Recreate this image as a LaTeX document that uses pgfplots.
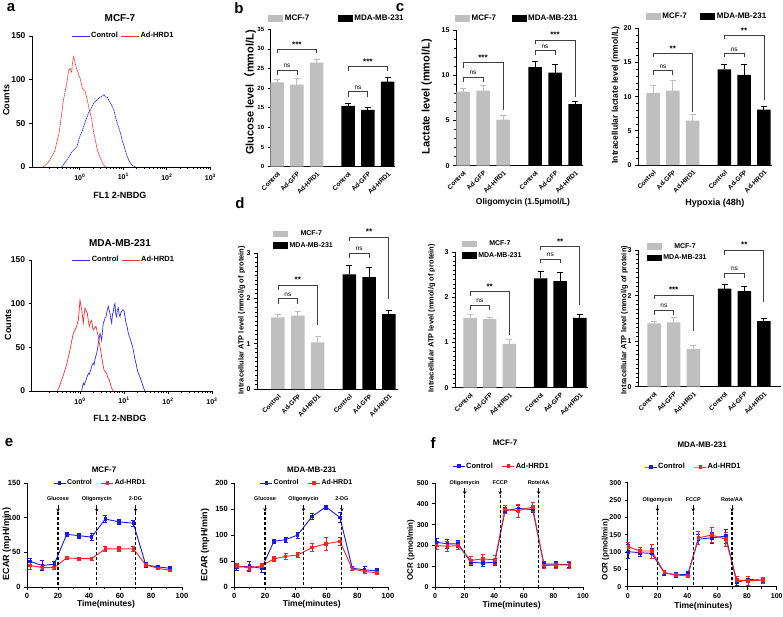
\documentclass[border=0pt]{standalone}
\usepackage{fontspec}
\setmainfont{Liberation Sans}
\newfontfamily\cjk{Noto Sans CJK SC}
\usepackage{pgfplots}
\pgfplotsset{compat=1.18}
\usetikzlibrary{arrows.meta}

\definecolor{barg}{RGB}{191,191,191}
\definecolor{hblue}{RGB}{45,45,255}
\definecolor{hred}{RGB}{255,45,45}
\definecolor{lblue}{RGB}{25,25,235}
\definecolor{lred}{RGB}{245,35,35}

\newcommand\fs[1]{\fontsize{#1}{#1}\selectfont}
% significance bracket: x1, x2, bar level, left foot, right foot, text
\newcommand\brk[6]{%
  \draw[black!75,line width=0.8pt] (axis cs:#1,#4) -- (axis cs:#1,#3) -- (axis cs:#2,#3) -- (axis cs:#2,#5);
  \node[anchor=south,inner sep=2pt] at (axis cs:{(#1+#2)/2},#3) {#6};}
\newcommand\ns{\fs{6.5}ns}
\newcommand\st[1]{\bfseries\fs{8}#1}
% injection marker: x, arrow top, arrow tip, label level, text
\newcommand\evt[5]{%
  \draw[line width=1.1pt,dash pattern=on 3pt off 2pt] (axis cs:#1,#3) -- (axis cs:#1,0);
  \draw[line width=1pt,-{Stealth[length=3.5pt,width=3.5pt]}] (axis cs:#1,#2) -- (axis cs:#1,#3);
  \node[font=\bfseries\fs{5.5},inner sep=0pt] at (axis cs:#1,#4) {#5};}

\pgfplotsset{
  base/.style={scale only axis, anchor=south west,
    axis x line*=bottom, axis y line*=left,
    axis line style={line width=1pt,-},
    tick align=outside, tick style={black,line width=0.8pt},
    major tick length=3pt, minor tick length=1.8pt,
    every axis title shift=0pt,
    /pgf/number format/assume math mode=true,
    clip=false},
  hist/.style={base, xmin=-1.1, xmax=3, ymin=0, ymax=150,
    ytick={0,50,100,150}, xtick={0,1,2,3},
    xticklabels={10\textsuperscript{0},10\textsuperscript{1},10\textsuperscript{2},10\textsuperscript{3}},
    minor xtick={-0.699,-0.523,-0.398,-0.301,-0.222,-0.155,-0.097,-0.046,
      0.301,0.477,0.602,0.699,0.778,0.845,0.903,0.954,
      1.301,1.477,1.602,1.699,1.778,1.845,1.903,1.954,
      2.301,2.477,2.602,2.699,2.778,2.845,2.903,2.954},
    x tick label style={font=\bfseries\fs{7}},
    y tick label style={font=\bfseries\fs{8.5}},
    title style={font=\bfseries\fs{10}},
    xlabel={FL1 2-NBDG}, ylabel={Counts},
    label style={font=\bfseries\fs{9}},
    legend style={draw=none, fill=none, at={(axis description cs:0.51,1)}, anchor=center,
      font=\bfseries\fs{7.5}, inner sep=0pt, nodes={inner sep=1pt},
      /tikz/every even column/.append style={column sep=2pt}},
    legend columns=2,
    legend image code/.code={\draw[##1,solid] (0pt,0pt) -- (18pt,0pt);}},
  barax/.style={base, ymin=0, xtick={0,1,2,3.6,4.6,5.6},
    xticklabels={Control,Ad-GFP,Ad-HRD1,Control,Ad-GFP,Ad-HRD1},
    x tick label style={rotate=45, anchor=north east, inner sep=1pt, font=\bfseries\fs{6.5}},
    y tick label style={font=\bfseries\fs{7}},
    major x tick style={draw=none},
    legend style={draw=none, fill=none, anchor=west, font=\bfseries\fs{8},
      inner sep=0pt, nodes={inner sep=1.5pt}}},
  atp/.style={barax, ymax=3, ytick={0,1,2,3}, minor y tick num=9,
    ylabel={Intracellular ATP level (mmol/g of protein)},
    ylabel style={font=\bfseries\fs{7.5}},
    legend columns=1, legend style={font=\bfseries\fs{7}, row sep=2pt},
    title style={font=\bfseries\fs{8.5}}},
  gbar/.style={ybar, fill=barg, draw=none, bar shift=0pt, bar width=13.5pt,
    legend image code/.code={\fill[barg] (0pt,-3.2pt) rectangle (15pt,3.2pt);},
    error bars/.cd, y dir=plus, y explicit,
    error bar style={line width=1pt,barg},
    error mark options={rotate=90,mark size=3pt,line width=1pt,barg}},
  kbar/.style={ybar, fill=black, draw=none, bar shift=0pt, bar width=13.5pt,
    legend image code/.code={\fill[black] (0pt,-3.2pt) rectangle (15pt,3.2pt);},
    error bars/.cd, y dir=plus, y explicit,
    error bar style={line width=1pt,black},
    error mark options={rotate=90,mark size=3pt,line width=1pt,black}},
  lineax/.style={base, xmin=0, xmax=100, xtick={0,20,...,100}, ymin=0,
    minor x tick num=1,
    tick label style={font=\bfseries\fs{7}},
    title style={font=\bfseries\fs{8}},
    xlabel={Time(minutes)},
    label style={font=\bfseries\fs{8.5}},
    legend style={draw=none, fill=none, anchor=center, font=\bfseries\fs{7},
      inner sep=0pt, nodes={inner sep=1pt},
      /tikz/every even column/.append style={column sep=8pt}},
    legend columns=2,
    legend image code/.code={\draw[mark repeat=2,mark phase=2,##1] plot coordinates {(0pt,0pt) (6pt,0pt) (12pt,0pt)};}},
  ctl/.style={lblue, line width=0.9pt, mark=square*, mark size=1.3pt,
    error bars/.cd, y dir=both, y explicit,
    error bar style={line width=0.6pt,lblue},
    error mark options={rotate=90,mark size=2pt,line width=0.6pt,lblue}},
  hrd/.style={lred, line width=0.9pt, mark=square*, mark size=1.3pt,
    error bars/.cd, y dir=both, y explicit,
    error bar style={line width=0.6pt,lred},
    error mark options={rotate=90,mark size=2pt,line width=0.6pt,lred}},
}

\begin{document}
\begin{tikzpicture}
\useasboundingbox (0,0) rectangle (783pt,-616pt);

\node[font=\bfseries\fs{15}] at (11pt,-8pt) {a};
\node[font=\bfseries\fs{15}] at (239pt,-8pt) {b};
\node[font=\bfseries\fs{15}] at (400pt,-8pt) {c};
\node[font=\bfseries\fs{15}] at (240pt,-203pt) {d};
\node[font=\bfseries\fs{15}] at (9pt,-443pt) {e};
\node[font=\bfseries\fs{15}] at (433pt,-443pt) {f};

% ---------- a: MCF-7 histogram
\begin{axis}[hist, at={(32pt,-167pt)}, width=178.4pt, height=131pt,
  title={MCF-7}, title style={at={(axis description cs:0.493,1.137)},anchor=center},
  xlabel style={at={(axis description cs:0.493,-0.214)},anchor=center},
  ylabel style={at={(axis description cs:-0.144,0.51)},anchor=center}]
\addplot[hblue, line width=0.7pt, dash pattern=on 1.5pt off 0.6pt] coordinates {
(-0.419,0) (-0.36,4) (-0.302,7.7) (-0.25,12) (-0.186,17) (-0.13,20) (-0.07,23) (-0.03,30)
(0.008,36) (0.045,40) (0.085,46) (0.125,52) (0.163,57) (0.2,62) (0.24,65) (0.28,69)
(0.318,73) (0.355,75) (0.395,77) (0.435,79) (0.473,80) (0.51,81) (0.55,83) (0.59,80)
(0.628,80) (0.665,76) (0.705,73) (0.745,69) (0.783,65) (0.82,57) (0.86,50) (0.9,44)
(0.938,38) (0.975,30) (1.016,24) (1.055,17) (1.093,11.5) (1.13,7) (1.17,3.8) (1.23,1) (1.287,0)};
\addlegendentry{Control}
\addplot[hred, line width=0.7pt, dash pattern=on 1.5pt off 0.6pt] coordinates {
(-0.845,0) (-0.75,4) (-0.65,11.5) (-0.58,18) (-0.535,27) (-0.49,36) (-0.457,46) (-0.42,60)
(-0.38,76) (-0.34,86) (-0.30,96) (-0.26,110) (-0.225,113) (-0.19,108) (-0.17,118) (-0.147,126)
(-0.12,122) (-0.093,116) (-0.07,112) (-0.047,109) (-0.02,104) (0.007,102) (0.035,95) (0.062,90)
(0.09,88) (0.124,86) (0.155,80) (0.186,73) (0.215,66) (0.24,61) (0.27,55) (0.295,46)
(0.33,36) (0.372,27) (0.40,20) (0.434,15) (0.47,10) (0.51,6) (0.55,2) (0.59,0)};
\addlegendentry{Ad-HRD1}
\end{axis}

% ---------- a: MDA-MB-231 histogram
\begin{axis}[hist, at={(31.6pt,-391pt)}, width=180.4pt, height=131pt,
  title={MDA-MB-231}, title style={at={(axis description cs:0.49,1.13)},anchor=center},
  xlabel style={at={(axis description cs:0.49,-0.206)},anchor=center},
  ylabel style={at={(axis description cs:-0.131,0.504)},anchor=center}]
\addplot[hblue, line width=0.7pt] coordinates {
(0.038,0) (0.057,5) (0.076,9) (0.1,7) (0.136,12.6) (0.16,16) (0.189,20) (0.21,19)
(0.242,24) (0.27,29) (0.303,32) (0.32,30) (0.341,36) (0.36,40) (0.379,43) (0.4,49)
(0.417,55) (0.435,60) (0.455,66) (0.475,62) (0.492,58) (0.51,68) (0.53,78) (0.55,80)
(0.57,84) (0.591,85) (0.61,90) (0.625,94) (0.644,97) (0.66,93) (0.682,89) (0.7,83)
(0.72,78) (0.74,88) (0.758,91) (0.775,97) (0.795,100) (0.812,88) (0.833,85) (0.85,93)
(0.871,95) (0.89,88) (0.909,85) (0.93,90) (0.947,91) (0.97,93) (1.0,92) (1.02,86)
(1.045,78) (1.07,74) (1.098,66) (1.125,62) (1.152,58) (1.175,54) (1.197,51) (1.225,43)
(1.25,36) (1.28,30) (1.303,24) (1.33,20) (1.364,16) (1.39,12) (1.424,7) (1.45,3) (1.477,0)};
\addlegendentry{Control}
\addplot[hred, line width=0.7pt] coordinates {
(-0.515,0) (-0.47,5) (-0.417,12.6) (-0.38,18) (-0.341,24) (-0.3,31) (-0.265,39) (-0.227,47)
(-0.19,57) (-0.152,66) (-0.115,70) (-0.076,74) (-0.057,78) (-0.038,81) (-0.02,92) (0,104)
(0.019,98) (0.038,93) (0.057,86) (0.076,78) (0.095,88) (0.114,95) (0.14,92) (0.167,89)
(0.19,80) (0.212,74) (0.24,79) (0.265,81) (0.285,73) (0.303,70) (0.33,72) (0.364,74)
(0.39,68) (0.417,62) (0.435,56) (0.455,51) (0.475,45) (0.492,39) (0.52,31) (0.545,24)
(0.575,22) (0.606,20) (0.635,15) (0.667,12.6) (0.69,8) (0.72,3) (0.758,0)};
\addlegendentry{Ad-HRD1}
\end{axis}

% ---------- b: glucose
\begin{axis}[barax, at={(270.7pt,-166.7pt)}, width=124.7pt, height=137.4pt,
  xmin=-0.33, xmax=6, ymax=35, ytick={0,5,...,35},
  y tick label style={font=\bfseries\fs{6}},
  ylabel={Glucose level{\cjk （}mmol/L)},
  ylabel style={at={(axis description cs:-0.166,0.54)},anchor=center,font=\bfseries\fs{11}},
  legend columns=2,
  legend style={at={(axis description cs:-0.02,1.08)},
    /tikz/every even column/.append style={column sep=27pt}}]
\addplot[gbar] coordinates {(0,21.5) +- (0,0.6) (1,20.9) +- (0,1.5) (2,26.5) +- (0,0.7)};
\addlegendentry{MCF-7}
\addplot[kbar] coordinates {(3.6,15.5) +- (0,0.7) (4.6,14.5) +- (0,0.6) (5.6,21.7) +- (0,0.9)};
\addlegendentry{MDA-MB-231}
\brk{0}{1}{24.6}{23.4}{23.4}{\ns}
\brk{0}{2}{29.9}{28.9}{28.9}{\st{***}}
\brk{3.6}{4.6}{19.1}{17.8}{17.8}{\ns}
\brk{3.6}{5.6}{25.5}{24.5}{24.5}{\st{***}}
\end{axis}

% ---------- c: lactate
\begin{axis}[barax, at={(456pt,-165.7pt)}, width=127pt, height=135.7pt,
  xmin=-0.35, xmax=6, ymax=15, ytick={0,5,10,15}, minor y tick num=4,
  ylabel={Lactate level (mmol/L)},
  ylabel style={at={(axis description cs:-0.231,0.508)},anchor=center,font=\bfseries\fs{11}},
  legend columns=2,
  legend style={at={(axis description cs:-0.008,1.086)},
    /tikz/every even column/.append style={column sep=14pt}}]
\addplot[gbar] coordinates {(0,8.2) +- (0,0.3) (1,8.3) +- (0,0.6) (2,5.1) +- (0,0.5)};
\addlegendentry{MCF-7}
\addplot[kbar] coordinates {(3.6,10.9) +- (0,0.6) (4.6,10.3) +- (0,0.9) (5.6,6.8) +- (0,0.3)};
\addlegendentry{MDA-MB-231}
\brk{0}{1}{9.8}{9.3}{9.3}{\ns}
\brk{0}{2}{11.4}{10.85}{6.2}{\st{***}}
\brk{3.6}{4.6}{12.7}{12.25}{12.25}{\ns}
\brk{3.6}{5.6}{13.9}{13.5}{7.6}{\st{***}}
\end{axis}

% ---------- c: intracellular lactate
\begin{axis}[barax, at={(638pt,-165pt)}, width=133.8pt, height=136.7pt,
  xmin=-0.76, xmax=6, ymax=20, ytick={0,5,...,20}, minor y tick num=4,
  ylabel={Intracellular lactate level (mmol/L)},
  ylabel style={at={(axis description cs:-0.167,0.512)},anchor=center,font=\bfseries\fs{8.5}},
  legend columns=2,
  legend style={at={(axis description cs:0.058,1.085)},
    /tikz/every even column/.append style={column sep=12pt}}]
\addplot[gbar] coordinates {(0,10.5) +- (0,1.1) (1,10.9) +- (0,1.5) (2,6.5) +- (0,0.9)};
\addlegendentry{MCF-7}
\addplot[kbar] coordinates {(3.6,14.0) +- (0,0.7) (4.6,13.2) +- (0,1.5) (5.6,8.1) +- (0,0.5)};
\addlegendentry{MDA-MB-231}
\brk{0}{1}{13.8}{13.2}{13.2}{\ns}
\brk{0}{2}{16.3}{15.8}{7.8}{\st{**}}
\brk{3.6}{4.6}{16.3}{15.85}{15.85}{\ns}
\brk{3.6}{5.6}{18.9}{18.4}{9.5}{\st{**}}
\end{axis}

% ---------- d: ATP normoxia
\begin{axis}[atp, at={(257pt,-389pt)}, width=141pt, height=136pt,
  xmin=-1.06, xmax=6.06,
  ylabel style={at={(axis description cs:-0.109,0.507)},anchor=center},
  legend style={at={(axis description cs:0.113,1.096)}}]
\addplot[gbar] coordinates {(0,1.58) +- (0,0.07) (1,1.62) +- (0,0.08) (2,1.03) +- (0,0.12)};
\addlegendentry{MCF-7}
\addplot[kbar] coordinates {(3.6,2.53) +- (0,0.2) (4.6,2.47) +- (0,0.22) (5.6,1.65) +- (0,0.08)};
\addlegendentry{MDA-MB-231}
\brk{0}{1}{1.99}{1.875}{1.875}{\ns}
\brk{0}{2}{2.29}{2.19}{1.42}{\st{**}}
\brk{3.6}{4.6}{3.0}{2.9}{2.9}{\ns}
\brk{3.6}{5.6}{3.35}{3.26}{1.99}{\st{**}}
\end{axis}

% ---------- d: ATP oligomycin
\begin{axis}[atp, at={(455pt,-387.7pt)}, width=133pt, height=135.4pt,
  xmin=-0.77, xmax=6.02,
  title={Oligomycin (1.5μmol/L)},
  title style={at={(axis description cs:0.511,1.371)},anchor=center},
  ylabel style={at={(axis description cs:-0.175,0.513)},anchor=center},
  legend style={at={(axis description cs:0.05,1.019)}}]
\addplot[gbar] coordinates {(0,1.54) +- (0,0.08) (1,1.52) +- (0,0.04) (2,0.97) +- (0,0.1)};
\addlegendentry{MCF-7}
\addplot[kbar] coordinates {(3.6,2.42) +- (0,0.15) (4.6,2.36) +- (0,0.2) (5.6,1.55) +- (0,0.07)};
\addlegendentry{MDA-MB-231}
\brk{0}{1}{1.83}{1.72}{1.72}{\ns}
\brk{0}{2}{2.13}{2.04}{1.17}{\st{**}}
\brk{3.6}{4.6}{2.85}{2.76}{2.76}{\ns}
\brk{3.6}{5.6}{3.13}{3.05}{1.83}{\st{**}}
\end{axis}

% ---------- d: ATP hypoxia
\begin{axis}[atp, at={(638pt,-386.7pt)}, width=142.5pt, height=136.7pt,
  xmin=-0.82, xmax=6.45,
  title={Hypoxia (48h)},
  title style={at={(axis description cs:0.54,1.344)},anchor=center,font=\bfseries\fs{9}},
  ylabel style={at={(axis description cs:-0.096,0.488)},anchor=center},
  legend style={at={(axis description cs:0.061,0.985)}}]
\addplot[gbar] coordinates {(0,1.39) +- (0,0.05) (1,1.41) +- (0,0.1) (2,0.83) +- (0,0.07)};
\addlegendentry{MCF-7}
\addplot[kbar] coordinates {(3.6,2.15) +- (0,0.1) (4.6,2.1) +- (0,0.1) (5.6,1.44) +- (0,0.06)};
\addlegendentry{MDA-MB-231}
\brk{0}{1}{1.68}{1.57}{1.57}{\ns}
\brk{0}{2}{2.01}{1.92}{1.22}{\st{***}}
\brk{3.6}{4.6}{2.49}{2.38}{2.38}{\ns}
\brk{3.6}{5.6}{3.0}{2.9}{1.85}{\st{**}}
\end{axis}

% ---------- e: ECAR MCF-7
\begin{axis}[lineax, at={(27pt,-587pt)}, width=155pt, height=104pt,
  ymax=150, ytick={0,50,100,150},
  tick label style={font=\bfseries\fs{7.5}},
  title={MCF-7}, title style={at={(axis description cs:0.497,1.132)},anchor=center},
  ylabel={ECAR (mpH/min)},
  ylabel style={at={(axis description cs:-0.131,0.413)},anchor=center,font=\bfseries\fs{9}},
  xlabel style={at={(axis description cs:0.51,-0.163)},anchor=center},
  legend style={at={(axis description cs:0.47,1.0)}}]
\addplot[ctl] coordinates {(1.9,37) +- (0,5) (9.9,31) +- (0,7) (17.6,33) +- (0,4) (25.6,76) +- (0,3)
 (33.7,74) +- (0,4) (41.7,72) +- (0,5) (50.5,98) +- (0,5) (59.4,94) +- (0,3) (68.6,92) +- (0,4)
 (76.6,32) +- (0,3) (84.4,29) +- (0,3) (92.3,27) +- (0,3)};
\addlegendentry{Control}
\addplot[hrd] coordinates {(1.9,31) +- (0,5) (9.9,28) +- (0,2) (17.6,28) +- (0,2) (25.6,42) +- (0,2)
 (33.7,41) +- (0,2) (41.7,41) +- (0,2) (50.5,55) +- (0,3) (59.4,55) +- (0,3) (68.6,55) +- (0,3)
 (76.6,32) +- (0,2) (84.4,27) +- (0,2) (92.3,24) +- (0,2)};
\addlegendentry{Ad-HRD1}
\evt{20}{119}{108}{127}{Glucose}
\evt{45}{119}{108}{127}{Oligomycin}
\evt{70}{119}{108}{127}{2-DG}
\end{axis}

% ---------- e: ECAR MDA-MB-231
\begin{axis}[lineax, at={(234.3pt,-587pt)}, width=153.7pt, height=104pt,
  ymax=200, ytick={0,50,...,200},
  tick label style={font=\bfseries\fs{7.5}},
  title={MDA-MB-231}, title style={at={(axis description cs:0.504,1.132)},anchor=center},
  ylabel={ECAR (mpH/min)},
  ylabel style={at={(axis description cs:-0.19,0.404)},anchor=center,font=\bfseries\fs{9}},
  xlabel style={at={(axis description cs:0.504,-0.163)},anchor=center},
  legend style={at={(axis description cs:0.47,1.0)}}]
\addplot[ctl] coordinates {(1.6,38) +- (0,5) (9.8,40) +- (0,10) (17.8,36) +- (0,8) (25.8,88) +- (0,3)
 (33.4,91) +- (0,5) (41.2,100) +- (0,6) (50.7,136) +- (0,6) (59.6,154) +- (0,4) (68.7,134) +- (0,10)
 (76.8,36) +- (0,3) (84.8,33) +- (0,7) (92.8,31) +- (0,5)};
\addlegendentry{Control}
\addplot[hrd] coordinates {(1.6,41) +- (0,4) (9.8,36.5) +- (0,4) (17.8,41) +- (0,4) (25.8,54) +- (0,5)
 (33.4,59) +- (0,5) (41.2,61.5) +- (0,5) (50.7,76) +- (0,8) (59.6,83) +- (0,12) (68.7,88) +- (0,7)
 (76.8,34.6) +- (0,3) (84.8,30) +- (0,3) (92.8,27) +- (0,3)};
\addlegendentry{Ad-HRD1}
\evt{20}{158}{145}{170}{Glucose}
\evt{45}{158}{145}{170}{Oligomycin}
\evt{70}{158}{145}{170}{2-DG}
\end{axis}

% ---------- f: OCR MCF-7
\begin{axis}[lineax, at={(435pt,-587pt)}, width=148pt, height=104pt,
  ymax=500, ytick={0,100,...,500},
  title={MCF-7}, title style={at={(axis description cs:0.473,1.385)},anchor=center},
  ylabel={OCR (pmol/min)},
  ylabel style={at={(axis description cs:-0.164,0.356)},anchor=center,font=\bfseries\fs{8}},
  xlabel style={at={(axis description cs:0.518,-0.18)},anchor=center},
  legend style={at={(axis description cs:0.446,1.163)},font=\bfseries\fs{7.5}}]
\addplot[ctl] coordinates {(1.1,215) +- (0,20) (8.3,208) +- (0,20) (15.7,207) +- (0,18) (24.1,120) +- (0,15)
 (32.2,115) +- (0,15) (40.5,120) +- (0,15) (47.3,367) +- (0,15) (56.3,378) +- (0,15) (66,372) +- (0,15)
 (73.6,110) +- (0,15) (81.8,110) +- (0,15) (90.8,107) +- (0,12)};
\addlegendentry{Control}
\addplot[hrd] coordinates {(1.1,199) +- (0,20) (8.3,196) +- (0,25) (15.7,199) +- (0,20) (24.1,128) +- (0,18)
 (32.2,135) +- (0,20) (40.5,131) +- (0,20) (47.3,372) +- (0,20) (56.3,367) +- (0,30) (66,385) +- (0,20)
 (73.6,103) +- (0,12) (81.8,106) +- (0,15) (90.8,107) +- (0,15)};
\addlegendentry{Ad-HRD1}
\evt{20}{476}{444}{500}{Oligomycin}
\evt{44}{476}{444}{500}{FCCP}
\evt{70}{476}{444}{500}{Rote/AA}
\end{axis}

% ---------- f: OCR MDA-MB-231
\begin{axis}[lineax, at={(627.7pt,-586.7pt)}, width=149pt, height=104pt,
  ymax=300, ytick={0,50,...,300},
  title={MDA-MB-231}, title style={at={(axis description cs:0.5,1.363)},anchor=center},
  ylabel={OCR (pmol/min)},
  ylabel style={at={(axis description cs:-0.148,0.356)},anchor=center,font=\bfseries\fs{8}},
  xlabel style={at={(axis description cs:0.507,-0.19)},anchor=center},
  legend style={at={(axis description cs:0.438,1.151)},font=\bfseries\fs{7.5}}]
\addplot[ctl] coordinates {(0.4,101) +- (0,20) (8.3,98) +- (0,10) (16.1,96) +- (0,15) (24.6,40) +- (0,8)
 (32.2,34) +- (0,8) (40.3,36) +- (0,8) (47.4,137) +- (0,15) (56.4,141) +- (0,15) (65.8,146) +- (0,20)
 (73.2,12.5) +- (0,8) (80.6,21) +- (0,8) (90.7,19) +- (0,5)};
\addlegendentry{Control}
\addplot[hrd] coordinates {(0.4,115) +- (0,12) (8.3,103) +- (0,10) (16.1,103) +- (0,20) (24.6,41) +- (0,5)
 (32.2,34) +- (0,5) (40.3,31) +- (0,5) (47.4,141) +- (0,18) (56.4,149) +- (0,22) (65.8,137) +- (0,20)
 (73.2,19) +- (0,10) (80.6,17) +- (0,12) (90.7,19) +- (0,8)};
\addlegendentry{Ad-HRD1}
\evt{20}{235}{216}{250}{Oligomycin}
\evt{44}{235}{216}{250}{FCCP}
\evt{70}{235}{216}{250}{Rote/AA}
\end{axis}

\end{tikzpicture}
\end{document}
